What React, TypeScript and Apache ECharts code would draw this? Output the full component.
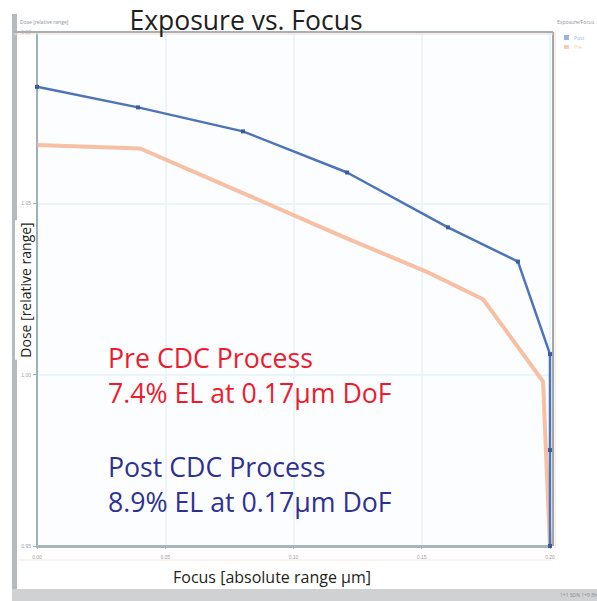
import React, { useEffect, useRef } from "react";
import * as echarts from "echarts";

// Focus positions (absolute range, µm) and relative dose for each process
const preFocus = [0, 0.0402, 0.0803, 0.1201, 0.152, 0.1739, 0.1973, 0.1984, 0.2];
const preDose = [1.067, 1.066, 1.053, 1.04, 1.03, 1.022, 0.998, 0.978, 0.95];
const postFocus = [0, 0.0394, 0.0803, 0.1209, 0.1602, 0.1875, 0.2, 0.2, 0.2];
const postDose = [1.084, 1.078, 1.071, 1.059, 1.043, 1.033, 1.006, 0.978, 0.95];

const xTicks = [0, 0.05, 0.1, 0.15, 0.2];
const yTicks = [0.95, 1.0, 1.05, 1.1];

const preLabel = ["Pre CDC Process", "7.4% EL at 0.17\u03bcm DoF"];
const postLabel = ["Post CDC Process", "8.9% EL at 0.17\u03bcm DoF"];

const FONT = "'Open Sans', 'Noto Sans', sans-serif";

export default function App() {
  const ref = useRef<HTMLDivElement>(null);

  useEffect(() => {
    if (!ref.current) return;
    const chart = echarts.init(ref.current, undefined, { renderer: "svg" });

    const pre = preFocus.map((x, i) => [x, preDose[i]]);
    const post = postFocus.map((x, i) => [x, postDose[i]]);

    chart.setOption({
      animation: false,
      backgroundColor: "#ffffff",
      grid: { left: 37, top: 32, right: 47, bottom: 55, show: true, backgroundColor: "#fcfdfe", borderWidth: 0 },
      xAxis: {
        type: "value",
        min: xTicks[0],
        max: xTicks[xTicks.length - 1],
        interval: 0.05,
        axisLine: { show: true, lineStyle: { color: "#a9b5bc", width: 3 } },
        axisTick: { show: true, length: 3, lineStyle: { color: "#a9b5bc" } },
        axisLabel: { fontSize: 5, color: "#9aa0a4", margin: 8, formatter: (v: number) => v.toFixed(2) },
        splitLine: { show: true, lineStyle: { color: "#e6f0f8", width: 1.5 } },
      },
      yAxis: {
        type: "value",
        min: yTicks[0],
        max: yTicks[yTicks.length - 1],
        interval: 0.05,
        axisLine: { show: true, lineStyle: { color: "#9fb0ba", width: 2 } },
        axisTick: { show: true, length: 4, lineStyle: { color: "#9fb0ba" } },
        axisLabel: { fontSize: 5, color: "#9aa0a4", margin: 6, formatter: (v: number) => v.toFixed(2) },
        splitLine: { show: true, lineStyle: { color: "#e6f0f8", width: 1.5 } },
      },
      series: [
        {
          name: "Pre CDC",
          type: "line",
          data: pre,
          symbol: "none",
          lineStyle: { color: "#f5b08f", width: 4, opacity: 0.8 },
          z: 2,
        },
        {
          name: "Post CDC",
          type: "line",
          data: post,
          symbol: "rect",
          symbolSize: 4,
          itemStyle: { color: "#3a5c9e" },
          lineStyle: { color: "#4d73b8", width: 2.5 },
          z: 3,
        },
      ],
      graphic: [
        // window frame
        { type: "rect", shape: { x: 12, y: 14, width: 5, height: 576 }, style: { fill: "#b7babd" }, z: 10 },
        { type: "rect", shape: { x: 12, y: 589, width: 585, height: 12 }, style: { fill: "#cfd1d3" }, z: 10 },
        { type: "line", shape: { x1: 14, y1: 32, x2: 553, y2: 32 }, style: { stroke: "#a6b0b5", lineWidth: 2 }, z: 10 },
        { type: "line", shape: { x1: 14, y1: 34, x2: 553, y2: 34 }, style: { stroke: "#f6dcd2", lineWidth: 1 }, z: 10 },
        { type: "line", shape: { x1: 553, y1: 32, x2: 553, y2: 546 }, style: { stroke: "#9ea9ae", lineWidth: 2 }, z: 1 },
        { type: "line", shape: { x1: 555, y1: 32, x2: 555, y2: 548 }, style: { stroke: "#f6dcd2", lineWidth: 1 }, z: 1 },
        { type: "line", shape: { x1: 18, y1: 560, x2: 553, y2: 560 }, style: { stroke: "#f8e4dc", lineWidth: 1 }, z: 1 },
        // small header captions
        { type: "text", x: 20, y: 22, style: { text: "Dose [relative range]", font: `5px ${FONT}`, fill: "#8a9096", textVerticalAlign: "middle" }, z: 10 },
        { type: "text", x: 557, y: 22, style: { text: "Exposure/Focus", font: `5px ${FONT}`, fill: "#8a9096", textVerticalAlign: "middle" }, z: 10 },
        { type: "rect", shape: { x: 564, y: 35, width: 5, height: 5 }, style: { fill: "#9fb3d8" }, z: 10 },
        { type: "text", x: 574, y: 38, style: { text: "Post", font: `5px ${FONT}`, fill: "#9fb3d8", textVerticalAlign: "middle" }, z: 10 },
        { type: "rect", shape: { x: 564, y: 45, width: 5, height: 4 }, style: { fill: "#f7cdb8" }, z: 10 },
        { type: "text", x: 574, y: 47, style: { text: "Pre", font: `5px ${FONT}`, fill: "#f7cdb8", textVerticalAlign: "middle" }, z: 10 },
        { type: "text", x: 560, y: 595, style: { text: "1+1 SDN 1+9 8h", font: `5px ${FONT}`, fill: "#8a9096", textVerticalAlign: "middle" }, z: 11 },
        // title
        { type: "text", x: 246, y: 20, style: { text: "Exposure vs. Focus", font: `26.5px ${FONT}`, fill: "#231f20", textAlign: "center", textVerticalAlign: "middle" }, z: 12 },
        // axis names
        {
          type: "text",
          x: 25,
          y: 290,
          rotation: Math.PI / 2,
          style: { text: "Dose [relative range]", font: `14px ${FONT}`, fill: "#231f20", textAlign: "center", textVerticalAlign: "middle", backgroundColor: "#ffffff", padding: [3, 2, 3, 2] },
          z: 12,
        },
        {
          type: "text",
          x: 272,
          y: 577,
          style: { text: "Focus [absolute range \u03bcm]", font: `16px ${FONT}`, fill: "#231f20", textAlign: "center", textVerticalAlign: "middle", backgroundColor: "#ffffff", padding: [3, 4, 3, 4] },
          z: 12,
        },
        // process annotations
        { type: "text", x: 108, y: 357, style: { text: preLabel[0], font: `26.7px ${FONT}`, fill: "#ec1c2e", textVerticalAlign: "middle" }, z: 12 },
        { type: "text", x: 108, y: 392, style: { text: preLabel[1], font: `26.7px ${FONT}`, fill: "#ec1c2e", textVerticalAlign: "middle" }, z: 12 },
        { type: "text", x: 108, y: 466, style: { text: postLabel[0], font: `26.7px ${FONT}`, fill: "#2e3192", textVerticalAlign: "middle" }, z: 12 },
        { type: "text", x: 108, y: 501, style: { text: postLabel[1], font: `26.7px ${FONT}`, fill: "#2e3192", textVerticalAlign: "middle" }, z: 12 },
      ],
    });

    return () => chart.dispose();
  }, []);

  return <div ref={ref} style={{ position: "fixed", left: 0, top: 0, width: 597, height: 601 }} />;
}
